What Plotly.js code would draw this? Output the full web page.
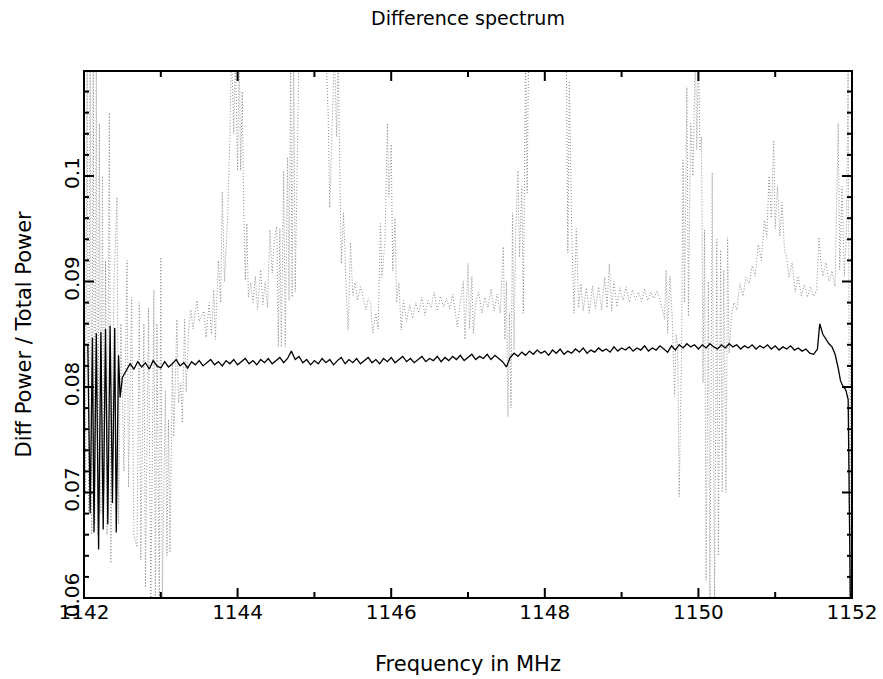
<!DOCTYPE html>
<html><head><meta charset="utf-8">
<script src="https://cdn.plot.ly/plotly-3.0.1.min.js"></script>
<style>html,body{margin:0;padding:0;background:#fff}#chart{width:883px;height:679px}</style>
</head><body><div id="chart"></div>
<script>
// Gray (dotted) spectrum: frequency (MHz) and ratio
const grayFreq = [
 1142.00,1142.02,1142.04,1142.06,1142.08,1142.10,1142.12,1142.14,1142.16,1142.18,
 1142.20,1142.22,1142.24,1142.26,1142.28,1142.30,1142.33,1142.35,1142.39,1142.43,
 1142.45,1142.48,1142.52,1142.56,1142.58,1142.62,1142.65,1142.69,1142.72,1142.74,
 1142.78,1142.80,1142.84,1142.87,1142.91,1142.93,1142.95,1142.98,1143.00,1143.02,
 1143.06,1143.08,1143.10,1143.12,1143.15,1143.17,1143.21,1143.23,1143.26,1143.28,
 1143.31,1143.33,1143.36,1143.39,1143.42,1143.47,1143.50,1143.56,1143.59,1143.63,
 1143.66,1143.69,1143.71,1143.73,1143.75,1143.78,1143.80,1143.83,1143.87,1143.90,
 1143.92,1143.95,1143.97,1144.00,1144.02,1144.04,1144.06,1144.08,1144.10,1144.12,
 1144.14,1144.17,1144.20,1144.23,1144.26,1144.30,1144.33,1144.36,1144.39,1144.42,
 1144.45,1144.48,1144.51,1144.53,1144.55,1144.57,1144.60,1144.62,1144.65,1144.67,
 1144.69,1144.71,1144.73,1144.75,1144.78,1144.80,1145.15,1145.18,1145.20,1145.23,
 1145.26,1145.29,1145.31,1145.33,1145.35,1145.38,1145.40,1145.42,1145.44,1145.47,
 1145.50,1145.53,1145.56,1145.60,1145.63,1145.67,1145.70,1145.73,1145.76,1145.80,
 1145.83,1145.86,1145.88,1145.92,1145.95,1145.97,1146.00,1146.02,1146.05,1146.07,
 1146.10,1146.13,1146.16,1146.20,1146.24,1146.28,1146.32,1146.36,1146.40,1146.44,
 1146.48,1146.52,1146.56,1146.60,1146.64,1146.68,1146.72,1146.76,1146.80,1146.84,
 1146.86,1146.90,1146.94,1146.96,1147.00,1147.02,1147.05,1147.07,1147.10,1147.14,
 1147.18,1147.22,1147.26,1147.30,1147.34,1147.38,1147.42,1147.46,1147.48,1147.50,
 1147.52,1147.54,1147.56,1147.58,1147.60,1147.62,1147.65,1147.67,1147.70,1147.72,
 1147.75,1147.77,1147.79,1148.28,1148.30,1148.32,1148.35,1148.38,1148.41,1148.44,
 1148.47,1148.50,1148.54,1148.58,1148.62,1148.66,1148.70,1148.74,1148.78,1148.81,
 1148.84,1148.87,1148.90,1148.94,1148.98,1149.02,1149.06,1149.10,1149.14,1149.18,
 1149.22,1149.26,1149.30,1149.34,1149.38,1149.42,1149.46,1149.50,1149.53,1149.56,
 1149.58,1149.60,1149.63,1149.66,1149.69,1149.71,1149.73,1149.75,1149.78,1149.80,
 1149.82,1149.85,1149.87,1149.90,1149.93,1149.96,1149.98,1150.00,1150.02,1150.04,
 1150.06,1150.08,1150.10,1150.13,1150.15,1150.18,1150.21,1150.24,1150.26,1150.29,
 1150.31,1150.33,1150.36,1150.38,1150.40,1150.43,1150.46,1150.50,1150.54,1150.58,
 1150.62,1150.66,1150.70,1150.74,1150.78,1150.82,1150.86,1150.89,1150.92,1150.95,
 1150.98,1151.00,1151.03,1151.06,1151.09,1151.12,1151.15,1151.18,1151.22,1151.26,
 1151.30,1151.34,1151.38,1151.42,1151.46,1151.50,1151.54,1151.57,1151.59,1151.62,
 1151.66,1151.70,1151.74,1151.78,1151.82,1151.84,1151.87,1151.90,1151.93,1151.95,
 1151.97,1152.00
];
const grayRatio = [
 0.1120,0.0700,0.1120,0.0680,0.1120,0.0660,0.1120,0.0670,0.1120,0.0660,
 0.1050,0.0680,0.1000,0.0700,0.0920,0.0660,0.1060,0.0633,0.0900,0.0980,
 0.0670,0.0860,0.0720,0.0920,0.0705,0.0885,0.0660,0.0648,0.0880,0.0636,
 0.0860,0.0610,0.0875,0.0590,0.0892,0.0590,0.0860,0.0590,0.0923,0.0601,
 0.0797,0.0640,0.0769,0.0643,0.0823,0.0753,0.0864,0.0785,0.0804,0.0766,
 0.0864,0.0795,0.0850,0.0873,0.0855,0.0882,0.0862,0.0872,0.0847,0.0880,
 0.0850,0.0892,0.0845,0.0890,0.0920,0.0880,0.0985,0.0900,0.0960,0.1040,
 0.1120,0.1040,0.1120,0.1005,0.1120,0.1005,0.1080,0.0965,0.0901,0.0955,
 0.0885,0.0899,0.0880,0.0905,0.0873,0.0911,0.0878,0.0900,0.0875,0.0949,
 0.0908,0.0940,0.0952,0.0838,0.0950,0.0838,0.1005,0.0838,0.1018,0.0882,
 0.1120,0.0885,0.1120,0.0890,0.1000,0.1120,0.1120,0.1056,0.0970,0.1040,
 0.1120,0.1037,0.1120,0.1012,0.0917,0.0965,0.0911,0.0880,0.0854,0.0937,
 0.0887,0.0899,0.0882,0.0895,0.0886,0.0873,0.0884,0.0880,0.0851,0.0870,
 0.0855,0.0955,0.0904,0.0940,0.1050,0.0980,0.1030,0.0910,0.0960,0.0880,
 0.0899,0.0854,0.0882,0.0862,0.0878,0.0865,0.0880,0.0870,0.0885,0.0868,
 0.0882,0.0875,0.0890,0.0872,0.0886,0.0876,0.0884,0.0874,0.0888,0.0870,
 0.0857,0.0880,0.0900,0.0845,0.0917,0.0855,0.0905,0.0851,0.0880,0.0890,
 0.0870,0.0885,0.0875,0.0893,0.0872,0.0888,0.0870,0.0933,0.0845,0.0900,
 0.0772,0.0870,0.0780,0.0965,0.0835,0.0945,0.1005,0.0923,0.0990,0.0870,
 0.1120,0.0984,0.1120,0.1120,0.0927,0.1090,0.0950,0.0870,0.0950,0.0875,
 0.0898,0.0872,0.0894,0.0870,0.0896,0.0874,0.0895,0.0873,0.0904,0.0875,
 0.0917,0.0872,0.0900,0.0876,0.0894,0.0882,0.0895,0.0880,0.0892,0.0883,
 0.0890,0.0881,0.0893,0.0882,0.0890,0.0884,0.0891,0.0883,0.0873,0.0864,
 0.0911,0.0851,0.0905,0.0864,0.0791,0.0850,0.0838,0.0696,0.0830,0.1015,
 0.0880,0.1084,0.0867,0.1050,0.1000,0.1120,0.1025,0.1120,0.1025,0.1037,
 0.0804,0.0949,0.0617,0.0900,0.0595,0.1003,0.0595,0.0940,0.0640,0.0930,
 0.0700,0.0911,0.0700,0.0942,0.0832,0.0867,0.0880,0.0873,0.0898,0.0886,
 0.0904,0.0898,0.0915,0.0905,0.0935,0.0920,0.0958,0.0942,0.1000,0.0960,
 0.1034,0.0950,0.0990,0.0943,0.0975,0.0930,0.0923,0.0904,0.0918,0.0890,
 0.0905,0.0886,0.0897,0.0885,0.0895,0.0886,0.0892,0.0942,0.0923,0.0905,
 0.0918,0.0900,0.0910,0.0895,0.1050,0.0911,0.0990,0.0905,0.0950,0.1120,
 0.0595,0.1120
];

// Black (solid) spectrum
const blackHeadFreq  = [1142.05,1142.08,1142.11,1142.13,1142.16,1142.19,1142.22,1142.25,1142.28,1142.31,1142.34,1142.37,1142.40,1142.42,1142.45,1142.47];
const blackHeadRatio = [0.0840,0.0680,0.0847,0.0662,0.0851,0.0646,0.0852,0.0665,0.0855,0.0670,0.0858,0.0690,0.0856,0.0662,0.0830,0.0790];
const blackGridStart = 1142.50;   // channel grid, MHz
const blackGridStep  = 0.05;
const blackGridRatio = [
 0.0809,0.0816,0.0822,0.0817,0.0824,0.0819,0.0823,0.0817,0.0825,0.0820,
 0.0818,0.0824,0.0819,0.0822,0.0826,0.0820,0.0823,0.0818,0.0824,0.0821,
 0.0825,0.0820,0.0823,0.0826,0.0821,0.0824,0.0820,0.0825,0.0822,0.0826,
 0.0821,0.0824,0.0827,0.0822,0.0825,0.0821,0.0826,0.0823,0.0827,0.0822,
 0.0825,0.0828,0.0823,0.0827,0.0834,0.0826,0.0829,0.0823,0.0826,0.0821,
 0.0825,0.0822,0.0827,0.0823,0.0826,0.0821,0.0825,0.0828,0.0822,0.0826,
 0.0823,0.0827,0.0822,0.0825,0.0828,0.0823,0.0826,0.0822,0.0827,0.0824,
 0.0828,0.0823,0.0826,0.0829,0.0824,0.0827,0.0823,0.0826,0.0829,0.0824,
 0.0827,0.0825,0.0829,0.0824,0.0828,0.0825,0.0829,0.0826,0.0830,0.0825,
 0.0828,0.0831,0.0826,0.0829,0.0827,0.0831,0.0826,0.0830,0.0827,0.0824,
 0.0819,0.0828,0.0832,0.0829,0.0833,0.0830,0.0834,0.0831,0.0835,0.0832,
 0.0834,0.0830,0.0835,0.0832,0.0836,0.0831,0.0834,0.0832,0.0836,0.0833,
 0.0837,0.0832,0.0835,0.0833,0.0837,0.0834,0.0836,0.0833,0.0838,0.0834,
 0.0837,0.0835,0.0838,0.0834,0.0837,0.0835,0.0839,0.0834,0.0837,0.0835,
 0.0839,0.0836,0.0833,0.0839,0.0835,0.0840,0.0837,0.0841,0.0838,0.0840,
 0.0836,0.0840,0.0837,0.0841,0.0838,0.0836,0.0840,0.0837,0.0841,0.0838,
 0.0840,0.0836,0.0839,0.0837,0.0840,0.0836,0.0839,0.0837,0.0840,0.0836,
 0.0839,0.0835,0.0838,0.0836,0.0839,0.0835,0.0837,0.0834,0.0836,0.0832,
 0.0831,0.0836
];
const blackTailFreq  = [1151.58,1151.62,1151.66,1151.70,1151.74,1151.78,1151.82,1151.85,1151.88,1151.92,1151.95,1151.98];
const blackTailRatio = [0.0860,0.0850,0.0845,0.0841,0.0838,0.0831,0.0818,0.0806,0.0801,0.0797,0.0788,0.0590];

const xTickVals  = [1142,1144,1146,1148,1150,1152];
const xMinorVals = [1143,1145,1147,1149,1151];
const yTickVals  = [0.06,0.07,0.08,0.09,0.1];
const yMinorVals = [0.062,0.064,0.066,0.068,0.072,0.074,0.076,0.078,0.082,0.084,0.086,0.088,0.092,0.094,0.096,0.098,0.102,0.104,0.106,0.108];

const blackGridFreq = blackGridRatio.map((_, i) => +(blackGridStart + i * blackGridStep).toFixed(2));
const blackFreq = blackHeadFreq.concat(blackGridFreq, blackTailFreq);
const blackRatio = blackHeadRatio.concat(blackGridRatio, blackTailRatio);

const traces = [
  {x: grayFreq, y: grayRatio, mode: 'lines',
   line: {color: '#8c8c8c', width: 1, dash: '1px,2px'}},
  {x: blackFreq, y: blackRatio, mode: 'lines',
   line: {color: '#000000', width: 1.3}}
];

// Frame and inward ticks on all four sides, built from the tick arrays
const tickLine = {color: '#000', width: 2};
const shapes = [{type: 'rect', xref: 'paper', yref: 'paper', x0: 0, x1: 1, y0: 0, y1: 1, line: tickLine, layer: 'above'}];
function xTicks(vals, len) {
  vals.forEach(v => {
    shapes.push({type: 'line', xref: 'x', yref: 'paper', ysizemode: 'pixel', yanchor: 0, x0: v, x1: v, y0: 0, y1: len, line: tickLine, layer: 'above'});
    shapes.push({type: 'line', xref: 'x', yref: 'paper', ysizemode: 'pixel', yanchor: 1, x0: v, x1: v, y0: 0, y1: -len, line: tickLine, layer: 'above'});
  });
}
function yTicks(vals, len) {
  vals.forEach(v => {
    shapes.push({type: 'line', xref: 'paper', yref: 'y', xsizemode: 'pixel', xanchor: 0, y0: v, y1: v, x0: 0, x1: len, line: tickLine, layer: 'above'});
    shapes.push({type: 'line', xref: 'paper', yref: 'y', xsizemode: 'pixel', xanchor: 1, y0: v, y1: v, x0: 0, x1: -len, line: tickLine, layer: 'above'});
  });
}
xTicks(xTickVals, 10); xTicks(xMinorVals, 6);
yTicks(yTickVals, 10); yTicks(yMinorVals, 5);

const layout = {
  width: 883, height: 679,
  margin: {l: 84, r: 31, t: 71, b: 81},
  showlegend: false,
  font: {family: 'DejaVu Sans', color: '#000'},
  xaxis: {
    range: [1142, 1152], tickvals: xTickVals, ticks: '',
    showline: false, showgrid: false, zeroline: false, tickfont: {size: 20}
  },
  yaxis: {
    range: [0.06, 0.10995], tickvals: yTickVals, tickangle: -90, ticks: '',
    showline: false, showgrid: false, zeroline: false, tickfont: {size: 20}
  },
  shapes: shapes,
  annotations: [
    {text: 'Difference spectrum', xref: 'paper', yref: 'paper', x: 0.5, y: 1.1006,
     xanchor: 'center', yanchor: 'middle', showarrow: false, font: {size: 19}},
    {text: 'Frequency in MHz', xref: 'paper', yref: 'paper', x: 0.5, y: -0.1252,
     xanchor: 'center', yanchor: 'middle', showarrow: false, font: {size: 21}},
    {text: 'Diff Power / Total Power', xref: 'paper', yref: 'paper', x: -0.0794, y: 0.5,
     xanchor: 'center', yanchor: 'middle', textangle: -90, showarrow: false, font: {size: 21}}
  ]
};

Plotly.newPlot('chart', traces, layout, {staticPlot: true});
</script>
</body></html>
